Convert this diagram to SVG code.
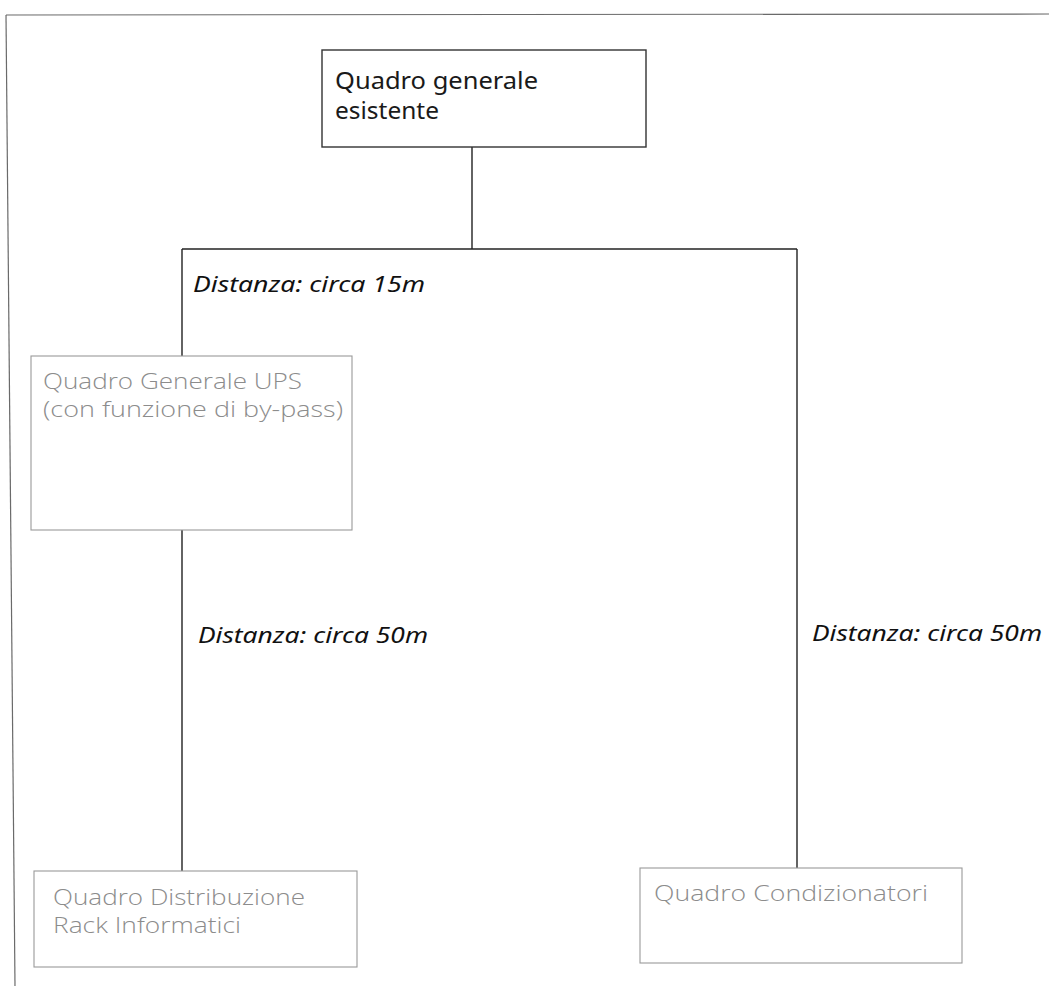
<svg xmlns="http://www.w3.org/2000/svg" width="1049" height="986" viewBox="0 0 1049 986">
<style>
.frame{fill:none;stroke:#6a6a6a;stroke-width:1.2}
.main{fill:#fff;stroke:#333;stroke-width:1.4}
.sub{fill:#fff;stroke:#9a9a9a;stroke-width:1.1}
.wire{fill:none;stroke:#222;stroke-width:1.4}
.tmain{font-family:"Noto Sans","Open Sans",sans-serif;font-size:23px;fill:#1a1a1a}
.tsub{font-family:"Open Sans","Noto Sans",sans-serif;font-size:22px;font-weight:300;fill:#8c8c8c}
.tdist{font-family:"Noto Sans","Open Sans",sans-serif;font-size:22px;font-style:italic;fill:#111}
</style>
<rect width="1049" height="986" fill="#fff"/>
<g id="frame">
<line class="frame" x1="6" y1="15" x2="1049" y2="14"/>
<line class="frame" x1="6" y1="15" x2="15" y2="986"/>
</g>
<g id="connectors">
<line class="wire" x1="472" y1="147" x2="472" y2="249"/>
<line class="wire" x1="182" y1="249" x2="797" y2="249"/>
<line class="wire" x1="182" y1="249" x2="182" y2="356"/>
<line class="wire" x1="182" y1="530" x2="182" y2="871"/>
<line class="wire" x1="797" y1="249" x2="797" y2="868"/>
<text class="tdist" x="193" y="292" textLength="232" lengthAdjust="spacingAndGlyphs">Distanza: circa 15m</text>
<text class="tdist" x="198" y="643" textLength="230" lengthAdjust="spacingAndGlyphs">Distanza: circa 50m</text>
<text class="tdist" x="812" y="641" textLength="230" lengthAdjust="spacingAndGlyphs">Distanza: circa 50m</text>
</g>
<g id="node-quadro-generale">
<rect class="main" x="322" y="50" width="324" height="97"/>
<text class="tmain" x="335" y="89" textLength="203" lengthAdjust="spacingAndGlyphs">Quadro generale</text>
<text class="tmain" x="335" y="119" textLength="104" lengthAdjust="spacingAndGlyphs">esistente</text>
</g>
<g id="node-ups">
<rect class="sub" x="31" y="356" width="321" height="174"/>
<text class="tsub" x="43" y="389" textLength="259" lengthAdjust="spacingAndGlyphs">Quadro Generale UPS</text>
<text class="tsub" x="43" y="417" textLength="300" lengthAdjust="spacingAndGlyphs">(con funzione di by-pass)</text>
</g>
<g id="node-rack">
<rect class="sub" x="34" y="871" width="323" height="96"/>
<text class="tsub" x="53" y="905" textLength="252" lengthAdjust="spacingAndGlyphs">Quadro Distribuzione</text>
<text class="tsub" x="53" y="933" textLength="188" lengthAdjust="spacingAndGlyphs">Rack Informatici</text>
</g>
<g id="node-condizionatori">
<rect class="sub" x="640" y="868" width="322" height="95"/>
<text class="tsub" x="654" y="901" textLength="274" lengthAdjust="spacingAndGlyphs">Quadro Condizionatori</text>
</g>
</svg>
